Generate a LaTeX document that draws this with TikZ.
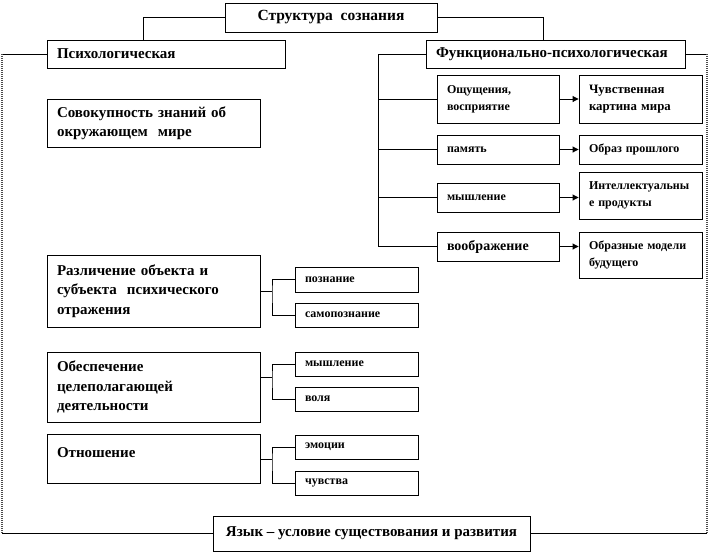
\documentclass[tikz,border=0pt]{standalone}
\usepackage{fontspec}
\setmainfont{Liberation Serif}
\usetikzlibrary{arrows.meta,calc}
\begin{document}
\begin{tikzpicture}[x=1pt,y=-1pt,
  box/.style={draw, line width=0.9pt, inner xsep=10pt, inner ysep=0pt, align=left},
  fA/.style={font=\fontsize{15pt}{18pt}\selectfont\bfseries},
  fB/.style={font=\fontsize{15pt}{19.5pt}\selectfont\bfseries},
  fS/.style={font=\fontsize{12pt}{14pt}\selectfont\bfseries},
  fR/.style={font=\fontsize{12pt}{17pt}\selectfont\bfseries},
  ln/.style={line width=0.9pt},
  dl/.style={line width=1.2pt, dash pattern=on 1pt off 1pt, black!70},
  arr/.style={line width=0.9pt, -{Triangle[length=6pt,width=6pt]}}
]
\useasboundingbox (0,0) rectangle (710,558);

% top level
\node[box,font=\fontsize{15.5pt}{18pt}\selectfont\bfseries,align=center,minimum width=212pt,minimum height=29pt] (top) at (331,17.5) {Структура\ \ сознания};
\node[box,fA,minimum width=238pt,minimum height=28pt,text width=218pt] (psy) at (166,54) {Психологическая};
\node[box,fA,minimum width=259pt,minimum height=28pt,text width=239pt] (func) at (555.5,54) {Функционально-психологическая};

% left column
\node[box,fB,minimum width=213pt,minimum height=48pt,text width=193pt] (tot) at (153.5,123) {Совокупность знаний об\\окружающем\ \ мире};
\node[box,fB,minimum width=213pt,minimum height=72pt,text width=193pt] (diff) at (153.5,291) {Различение объекта и\\субъекта\ \ психического\\отражения};
\node[box,fB,minimum width=213pt,minimum height=70pt,text width=193pt] (prov) at (153.5,387) {Обеспечение\\целеполагающей\\деятельности};
\node[box,fB,minimum width=213pt,minimum height=49pt,text width=193pt] (rel) at (153.5,458.5) {Отношение\\[-8pt]\mbox{}};

% left sub boxes
\node[box,fS,minimum width=123pt,minimum height=25pt,text width=103pt] (cog) at (356.5,279.5) {познание};
\node[box,fS,minimum width=123pt,minimum height=24pt,text width=103pt] (selfcog) at (356.5,315) {самопознание};
\node[box,fS,minimum width=123pt,minimum height=24pt,text width=103pt] (think2) at (356.5,364) {мышление};
\node[box,fS,minimum width=123pt,minimum height=24pt,text width=103pt] (will) at (356.5,399) {воля};
\node[box,fS,minimum width=123pt,minimum height=24pt,text width=103pt] (emo) at (356.5,447) {эмоции};
\node[box,fS,minimum width=123pt,minimum height=24pt,text width=103pt] (feel) at (356.5,483) {чувства};

% right column
\node[box,fR,minimum width=122pt,minimum height=48pt,text width=102pt] (sens) at (498,99) {Ощущения,\\восприятие};
\node[box,fS,minimum width=122pt,minimum height=29pt,text width=102pt] (mem) at (498,149.5) {память};
\node[box,fS,minimum width=122pt,minimum height=29pt,text width=102pt] (think) at (498,197.5) {мышление};
\node[box,font=\fontsize{14pt}{17pt}\selectfont\bfseries,minimum width=122pt,minimum height=29pt,text width=102pt] (imag) at (498,246.5) {воображение};

\node[box,font=\fontsize{12.8pt}{17pt}\selectfont\bfseries,minimum width=123pt,minimum height=48pt,text width=103pt] (world) at (640.5,99) {Чувственная\\картина мира};
\node[box,fR,minimum width=123pt,minimum height=29pt,text width=103pt] (past) at (640.5,149.5) {Образ прошлого};
\node[box,fR,minimum width=123pt,minimum height=47pt,text width=103pt] (intel) at (640.5,195.5) {Интеллектуальны\\е продукты};
\node[box,fR,minimum width=123pt,minimum height=46pt,text width=103pt] (model) at (640.5,255) {Образные модели\\будущего};

% bottom
\node[box,fA,align=center,minimum width=317pt,minimum height=35pt] (lang) at (371.5,533.5) {Язык -- условие существования и развития};

% coordinates
\coordinate (tl) at (143,17.5);
\coordinate (tr) at (543,17.5);
\coordinate (L1) at (2,54);
\coordinate (L2) at (2,533.5);
\coordinate (R1) at (707,54);
\coordinate (R2) at (707,533.5);
\coordinate (trunk) at (378,54);
\coordinate (j1) at (272,291);
\coordinate (j2) at (272,377);
\coordinate (j3) at (272,459);

% connectors
\draw[ln] (top.west) -- (tl) -- (tl |- psy.north);
\draw[ln] (top.east) -- (tr) -- (tr |- func.north);
\draw[ln] (psy.west) -- (L1);
\draw[dl] (L1) -- (L2);
\draw[ln] (L2) -- (lang.west);
\draw[ln] (func.east) -- (R1);
\draw[dl] (R1) -- (R2);
\draw[ln] (R2) -- (lang.east);

\draw[ln] (func.west) -- (trunk) -- (trunk |- imag.west) -- (imag.west);
\draw[ln] (sens.west) -- (sens.west -| trunk);
\draw[ln] (mem.west) -- (mem.west -| trunk);
\draw[ln] (think.west) -- (think.west -| trunk);

\draw[arr] (sens.east) -- (sens.east -| world.west);
\draw[arr] (mem.east) -- (mem.east -| past.west);
\draw[arr] (think.east) -- (think.east -| intel.west);
\draw[arr] (imag.east) -- (imag.east -| model.west);

\draw[ln] (diff.east) -- (j1);
\draw[ln] (cog.west) -| (j1) |- (selfcog.west);
\draw[ln] (prov.east |- j2) -- (j2);
\draw[ln] (think2.west) -| (j2) |- (will.west);
\draw[ln] (rel.east |- j3) -- (j3);
\draw[ln] (emo.west) -| (j3) |- (feel.west);
\end{tikzpicture}
\end{document}
